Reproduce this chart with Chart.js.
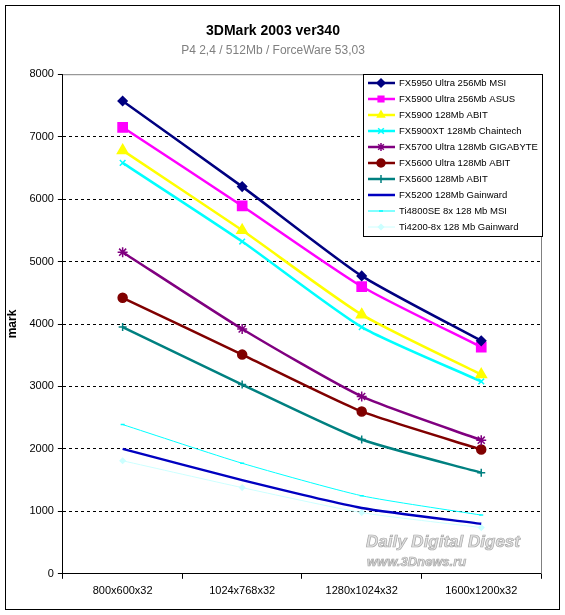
<!DOCTYPE html>
<html>
<head>
<meta charset="utf-8">
<script src="https://cdn.jsdelivr.net/npm/chart.js@4/dist/chart.umd.min.js"></script>
<style>
  html, body { margin: 0; padding: 0; background: #fff; }
  #wrap { position: relative; width: 565px; height: 615px; }
</style>
</head>
<body>
<div id="wrap"><canvas id="benchChart" width="565" height="615"></canvas></div>
<script>
// resolutions on the x axis
const resolutions = ['800x600x32', '1024x768x32', '1280x1024x32', '1600x1200x32'];

// 3DMark 2003 scores per card
const fx5950Ultra = [7570, 6200, 4770, 3730];
const fx5900Ultra = [7150, 5890, 4600, 3630];
const fx5900 = [6780, 5500, 4150, 3190];
const fx5900xt = [6580, 5320, 3950, 3080];
const fx5700Ultra = [5150, 3920, 2840, 2140];
const fx5600Ultra = [4420, 3510, 2600, 1990];
const fx5600 = [3950, 3030, 2150, 1620];
const fx5200 = [2000, 1500, 1055, 800];
const ti4800se = [2390, 1770, 1250, 940];
const ti4200 = [1810, 1380, 980, 740];

const cardNames = [
    'FX5950 Ultra 256Mb MSI',
    'FX5900 Ultra 256Mb ASUS',
    'FX5900 128Mb ABIT',
    'FX5900XT 128Mb Chaintech',
    'FX5700 Ultra 128Mb GIGABYTE',
    'FX5600 Ultra 128Mb ABIT',
    'FX5600 128Mb ABIT',
    'FX5200 128Mb Gainward',
    'Ti4800SE 8x 128 Mb MSI',
    'Ti4200-8x 128 Mb Gainward'
];

const yTicks = [0, 1000, 2000, 3000, 4000, 5000, 6000, 7000, 8000];

function series(i, data, color, style, radius, width) {
    return {
        label: cardNames[i],
        data: data,
        borderColor: color,
        backgroundColor: color,
        borderWidth: width,
        pointStyle: style,
        pointRadius: radius,
        pointBorderWidth: 1.5,
        fill: false,
        tension: 0.2
    };
}

// outer frame, plot frame, legend box and watermark
const decorPlugin = {
    id: 'decor',
    afterDraw(chart) {
        const ctx = chart.ctx;
        const a = chart.chartArea;
        ctx.save();
        ctx.strokeStyle = '#000';
        ctx.lineWidth = 1;
        ctx.strokeRect(5.5, 5.5, 554, 604);

        ctx.strokeStyle = '#808080';
        ctx.beginPath();
        ctx.moveTo(a.left, a.top + 0.5);
        ctx.lineTo(a.right + 0.5, a.top + 0.5);
        ctx.lineTo(a.right + 0.5, a.bottom);
        ctx.stroke();

        // watermark
        ctx.textAlign = 'left';
        ctx.textBaseline = 'middle';
        ctx.font = 'italic bold 17px "Liberation Sans", Arial, sans-serif';
        ctx.fillStyle = '#e2e2e2';
        ctx.strokeStyle = '#a8a8a8';
        ctx.lineWidth = 0.7;
        ctx.fillText('Daily Digital Digest', 366, 542);
        ctx.strokeText('Daily Digital Digest', 366, 542);
        ctx.font = 'italic bold 13px "Liberation Sans", Arial, sans-serif';
        ctx.fillText('www.3Dnews.ru', 367, 562);
        ctx.strokeText('www.3Dnews.ru', 367, 562);

        // legend
        const lx = 363, ly = 74, lw = 179, lh = 162;
        ctx.fillStyle = '#fff';
        ctx.fillRect(lx, ly, lw, lh);
        ctx.strokeStyle = '#000';
        ctx.lineWidth = 1;
        ctx.strokeRect(lx + 0.5, ly + 0.5, lw, lh);
        ctx.font = '9.5px "Liberation Sans", Arial, sans-serif';
        chart.data.datasets.forEach((ds, i) => {
            const y = ly + 9 + i * 16;
            ctx.strokeStyle = ds.borderColor;
            ctx.lineWidth = ds.borderWidth;
            ctx.beginPath();
            ctx.moveTo(lx + 5, y);
            ctx.lineTo(lx + 32, y);
            ctx.stroke();
            if (ds.pointRadius > 0) {
                ctx.fillStyle = ds.backgroundColor;
                ctx.lineWidth = 1.5;
                Chart.helpers.drawPoint(ctx, {
                    pointStyle: ds.pointStyle,
                    radius: Math.min(ds.pointRadius, 4),
                    borderWidth: 1.5,
                    rotation: 0
                }, lx + 18, y);
            }
            ctx.fillStyle = '#000';
            ctx.fillText(ds.label, lx + 36, y + 0.5);
        });
        ctx.restore();
    }
};

const benchCtx = document.getElementById('benchChart').getContext('2d');
const benchChart = new Chart(benchCtx, {
    type: 'line',
    data: {
        labels: resolutions,
        datasets: [
            series(0, fx5950Ultra, '#000080', 'rectRot', 4.5, 2.5),
            series(1, fx5900Ultra, '#ff00ff', 'rect', 6.5, 2.5),
            series(2, fx5900, '#ffff00', 'triangle', 6, 2.5),
            series(3, fx5900xt, '#00ffff', 'crossRot', 4, 2.5),
            series(4, fx5700Ultra, '#800080', 'star', 5, 2.5),
            series(5, fx5600Ultra, '#800000', 'circle', 4.5, 2.5),
            series(6, fx5600, '#008080', 'cross', 4, 2.5),
            series(7, fx5200, '#0000c0', 'line', 0, 2.5),
            series(8, ti4800se, '#00ffff', 'line', 2, 1),
            series(9, ti4200, '#ccffff', 'rectRot', 2.5, 1)
        ]
    },
    options: {
        responsive: false,
        animation: false,
        layout: { padding: { left: 5, right: 24, top: 0, bottom: 11 } },
        plugins: {
            legend: { display: false },
            tooltip: { enabled: false },
            title: {
                display: true,
                text: '3DMark 2003 ver340',
                color: '#000',
                font: { family: '"Liberation Sans", Arial, sans-serif', size: 14, weight: 'bold' },
                padding: { top: 23, bottom: 4 }
            },
            subtitle: {
                display: true,
                text: 'P4 2,4 / 512Mb / ForceWare 53,03',
                color: '#808080',
                font: { family: '"Liberation Sans", Arial, sans-serif', size: 12 },
                padding: { bottom: 16 }
            }
        },
        scales: {
            x: {
                offset: true,
                border: { color: '#000', width: 1 },
                grid: { offset: true, drawOnChartArea: false, drawTicks: true, tickLength: 5, color: '#000' },
                ticks: {
                    color: '#000',
                    padding: 6,
                    maxRotation: 0,
                    font: { family: '"Liberation Sans", Arial, sans-serif', size: 11 }
                }
            },
            y: {
                min: 0,
                max: 8000,
                afterBuildTicks(axis) { axis.ticks = yTicks.map(v => ({ value: v })); },
                border: { color: '#000', width: 1, dash: [3, 3] },
                grid: {
                    color: (c) => (c.tick.value === 0 || c.tick.value === 8000) ? 'rgba(0,0,0,0)' : '#000',
                    tickColor: '#000',
                    tickLength: 5,
                    drawTicks: true
                },
                ticks: {
                    color: '#000',
                    padding: 4,
                    callback: (v) => String(v),
                    font: { family: '"Liberation Sans", Arial, sans-serif', size: 11 }
                },
                title: {
                    display: true,
                    text: 'mark',
                    color: '#000',
                    font: { family: '"Liberation Sans", Arial, sans-serif', size: 12, weight: 'bold' },
                    padding: { top: 0, bottom: 6 }
                }
            }
        }
    },
    plugins: [decorPlugin]
});
</script>
</body>
</html>
